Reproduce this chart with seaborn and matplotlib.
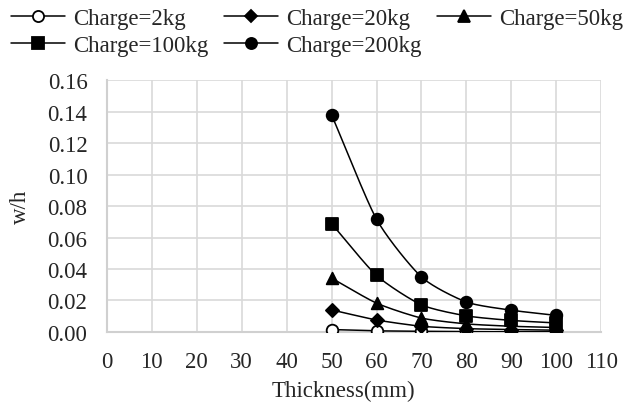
import numpy as np
import pandas as pd
import matplotlib
matplotlib.use("Agg")
import matplotlib.pyplot as plt
from matplotlib.lines import Line2D
import seaborn as sns

thickness = [50, 60, 70, 80, 90, 100]
charge_2kg = [0.0015, 0.0007, 0.0004, 0.0002, 0.0001, 0.0001]
charge_20kg = [0.0140, 0.0076, 0.0036, 0.0021, 0.0015, 0.0011]
charge_50kg = [0.0342, 0.0183, 0.0088, 0.0051, 0.0036, 0.0028]
charge_100kg = [0.0688, 0.0359, 0.0172, 0.0102, 0.0073, 0.0057]
charge_200kg = [0.1380, 0.0716, 0.0349, 0.0190, 0.0138, 0.0105]

series = [
    ("Charge=2kg", charge_2kg, "o", "white"),
    ("Charge=20kg", charge_20kg, "D", "black"),
    ("Charge=50kg", charge_50kg, "^", "black"),
    ("Charge=100kg", charge_100kg, "s", "black"),
    ("Charge=200kg", charge_200kg, "o", "black"),
]


def smooth(x, y, n=30):
    # Catmull-Rom style smoothing, similar to Excel's smoothed line
    x = np.asarray(x, float)
    y = np.asarray(y, float)
    px = np.concatenate([[2 * x[0] - x[1]], x, [2 * x[-1] - x[-2]]])
    py = np.concatenate([[2 * y[0] - y[1]], y, [2 * y[-1] - y[-2]]])
    xs, ys = [], []
    t = np.linspace(0, 1, n)
    for i in range(1, len(px) - 2):
        for arr, out in ((px, xs), (py, ys)):
            p0, p1, p2, p3 = arr[i - 1:i + 3]
            m1 = (p2 - p0) / 2 / 1.5
            m2 = (p3 - p1) / 2 / 1.5
            h00 = 2 * t**3 - 3 * t**2 + 1
            h10 = t**3 - 2 * t**2 + t
            h01 = -2 * t**3 + 3 * t**2
            h11 = t**3 - t**2
            out.append(h00 * p1 + h10 * m1 + h01 * p2 + h11 * m2)
    return np.concatenate(xs), np.concatenate(ys)


sns.set_style("white")
plt.rcParams["font.family"] = ["Liberation Serif", "DejaVu Serif"]
plt.rcParams["font.size"] = 16.5

fig, ax = plt.subplots(figsize=(6.25, 4.06), dpi=100)

handles = []
for label, vals, mk, fc in series:
    sx, sy = smooth(thickness, vals)
    sns.lineplot(x=sx, y=sy, ax=ax, color="black", linewidth=1.1, sort=False, zorder=3)
    df = pd.DataFrame({"x": thickness, "y": vals})
    ms = 70 if mk != "D" else 45
    sns.scatterplot(data=df, x="x", y="y", ax=ax, marker=mk, s=ms, color=fc,
                    edgecolor="black", linewidth=1.3, zorder=4)
    handles.append(Line2D([], [], color="black", linewidth=1.1, marker=mk,
                          markersize=8 if mk != "D" else 6.5, markerfacecolor=fc,
                          markeredgecolor="black", markeredgewidth=1.3, label=label))

ax.set_xlim(0, 110)
ax.set_ylim(0, 0.16)
ax.set_xticks(range(0, 111, 10))
ax.set_yticks(np.arange(0, 0.161, 0.02))
ax.yaxis.set_major_formatter(matplotlib.ticker.FormatStrFormatter("%.2f"))
ax.grid(True, color="#d9d9d9", linewidth=1.2)
ax.set_axisbelow(True)
for side in ["top", "right"]:
    ax.spines[side].set_visible(False)
for side in ["left", "bottom"]:
    ax.spines[side].set_color("#d0d0d0")
    ax.spines[side].set_linewidth(1.5)
ax.tick_params(axis="x", length=0, pad=14)
ax.tick_params(axis="y", length=0, pad=14)
ax.set_xlabel("Thickness(mm)")
ax.xaxis.set_label_coords(0.478, -0.231)
ax.xaxis.label.set_va("center")
ax.set_ylabel("w/h", labelpad=12)

# row-major order: 2, 20, 50 / 100, 200
order = [0, 3, 1, 4, 2]
fig.legend(handles=[handles[i] for i in order], loc="upper left",
           bbox_to_anchor=(11 / 625, 1 - 9 / 406), ncol=3, fontsize=16.5,
           frameon=False, handlelength=2.36, columnspacing=0.68, handletextpad=0.35,
           labelspacing=0.25, borderaxespad=0, borderpad=0)

fig.subplots_adjust(left=0.171, right=0.962, top=0.80, bottom=0.18)
fig.savefig("out.png", dpi=100)
